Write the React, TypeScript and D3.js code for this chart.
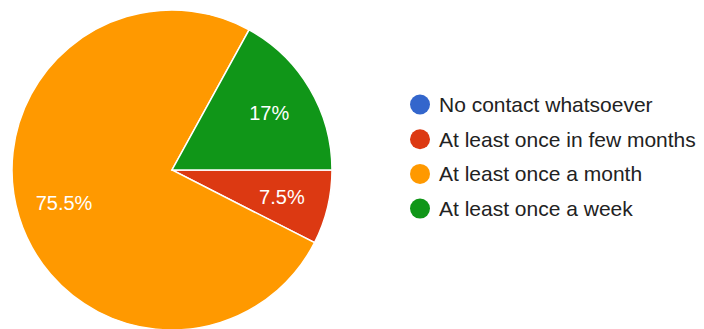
import React from "react";
import * as d3 from "d3";

const categories = [
  "No contact whatsoever",
  "At least once in few months",
  "At least once a month",
  "At least once a week",
];
const values = [0, 7.5, 75.5, 17];
const labels = ["0%", "7.5%", "75.5%", "17%"];
const colors = ["#3366cc", "#dc3912", "#ff9900", "#109618"];

export default function App() {
  const width = 704;
  const height = 329;
  const cx = 172;
  const cy = 170;
  const r = 160;
  const labelR = 113;

  const pie = d3
    .pie<number>()
    .sort(null)
    .value((d) => d)
    .startAngle(Math.PI / 2)
    .endAngle(Math.PI / 2 + 2 * Math.PI);
  const arcs = pie(values);
  const arc = d3.arc<d3.PieArcDatum<number>>().innerRadius(0).outerRadius(r);
  const labelArc = d3
    .arc<d3.PieArcDatum<number>>()
    .innerRadius(labelR)
    .outerRadius(labelR);

  const legendX = 420;
  const legendY0 = 104.5;
  const legendStep = 34.7;

  return (
    <svg
      width={width}
      height={height}
      style={{ position: "absolute", left: 0, top: 0, background: "#fff" }}
      fontFamily="'Liberation Sans', Arial, sans-serif"
    >
      <rect x={0} y={0} width={width} height={height} fill="#fff" />
      <g transform={`translate(${cx},${cy})`}>
        {arcs.map((a, i) =>
          a.value > 0 ? (
            <path
              key={i}
              d={arc(a) || ""}
              fill={colors[i]}
              stroke="#fff"
              strokeWidth={1.5}
            />
          ) : null
        )}
        {arcs.map((a, i) => {
          if (a.value <= 0) return null;
          const [x, y] = labelArc.centroid(a);
          return (
            <text
              key={"l" + i}
              x={x}
              y={y}
              dy="0.36em"
              textAnchor="middle"
              fontSize={20}
              fill="#fff"
            >
              {labels[i]}
            </text>
          );
        })}
      </g>
      <g>
        {categories.map((c, i) => (
          <g key={c} transform={`translate(${legendX},${legendY0 + i * legendStep})`}>
            <circle cx={0} cy={0} r={10} fill={colors[i]} />
            <text x={19} y={0} dy="0.36em" fontSize={21} fill="#222">
              {c}
            </text>
          </g>
        ))}
      </g>
    </svg>
  );
}
